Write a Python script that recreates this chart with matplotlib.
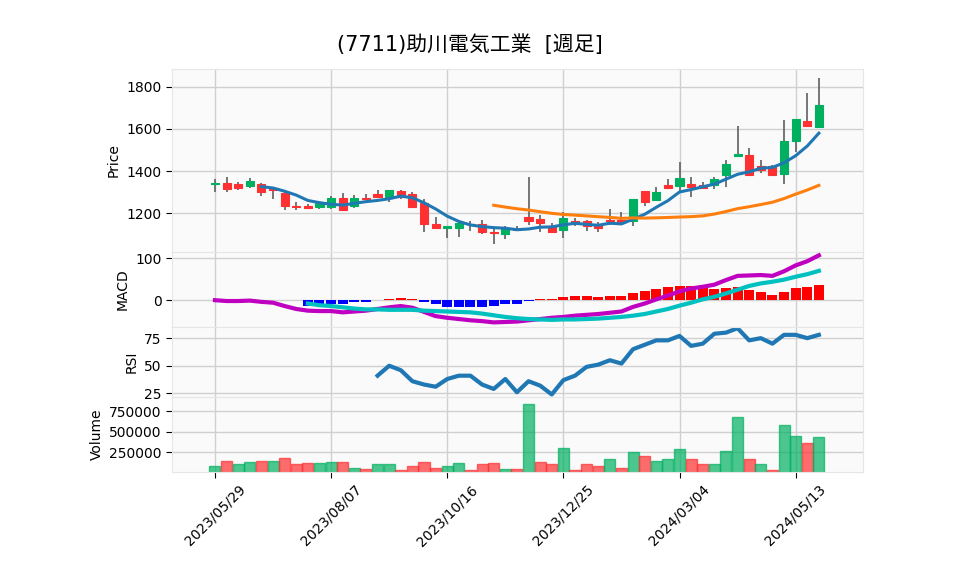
import numpy as np
import pandas as pd
import matplotlib
matplotlib.use("Agg")
import matplotlib.pyplot as plt

plt.rcParams['font.family'] = ['DejaVu Sans', 'Noto Sans CJK JP']

# weekly bars
dates = pd.date_range("2023-05-29", periods=53, freq="7D")
opens = [1337, 1342, 1339, 1331, 1339, 1315, 1298, 1236, 1236, 1228,
         1231, 1271, 1236, 1271, 1291, 1279, 1305, 1291, 1250, 1148,
         1128, 1129, 1150, 1148, 1113, 1102, 1124, 1181, 1172, 1137,
         1118, 1162, 1161, 1145, 1168, 1168, 1162, 1305, 1263, 1334,
         1331, 1339, 1333, 1334, 1382, 1473, 1476, 1422, 1425, 1387,
         1541, 1636, 1608]
highs = [1361, 1370, 1348, 1365, 1345, 1320, 1302, 1255, 1246, 1260,
         1282, 1294, 1287, 1290, 1310, 1311, 1310, 1302, 1266, 1181,
         1140, 1168, 1161, 1168, 1129, 1137, 1140, 1373, 1192, 1153,
         1208, 1176, 1168, 1156, 1219, 1208, 1266, 1305, 1323, 1361,
         1444, 1374, 1346, 1374, 1454, 1616, 1508, 1452, 1427, 1642,
         1649, 1771, 1840]
lows = [1302, 1299, 1309, 1318, 1282, 1268, 1216, 1214, 1219, 1220,
        1222, 1214, 1224, 1266, 1276, 1255, 1266, 1224, 1110, 1132,
        1082, 1087, 1117, 1102, 1055, 1077, 1118, 1142, 1113, 1113,
        1082, 1141, 1117, 1110, 1145, 1145, 1140, 1235, 1263, 1318,
        1307, 1279, 1318, 1314, 1324, 1466, 1378, 1393, 1380, 1339,
        1490, 1607, 1608]
closes = [1342, 1313, 1321, 1353, 1302, 1309, 1236, 1229, 1226, 1250,
          1271, 1216, 1271, 1266, 1279, 1311, 1279, 1231, 1148, 1132,
          1140, 1153, 1148, 1110, 1107, 1126, 1118, 1165, 1153, 1113,
          1176, 1153, 1140, 1132, 1162, 1159, 1266, 1255, 1299, 1318,
          1365, 1324, 1320, 1363, 1435, 1481, 1382, 1406, 1382, 1544,
          1649, 1612, 1711]
volumes = [79000, 141000, 104000, 129000, 141000, 141000, 179000, 104000, 116000, 116000,
           129000, 129000, 66000, 54000, 104000, 104000, 41000, 79000, 129000, 66000,
           79000, 116000, 41000, 104000, 116000, 54000, 54000, 841000, 137000, 104000,
           304000, 41000, 104000, 79000, 166000, 66000, 254000, 204000, 141000, 166000,
           291000, 166000, 104000, 104000, 266000, 679000, 166000, 104000, 41000, 579000,
           454000, 366000, 441000]

# indicator panels (None = not drawn yet)
macd = [0, -2, -2, -1, -4, -6, -14, -21, -25, -26,
        -26, -29, -27, -25, -21, -17, -14, -18, -28, -38,
        -42, -45, -48, -50, -53, -52, -51, -48, -45, -42,
        -40, -37, -35, -33, -30, -27, -16, -8, 2, 11,
        21, 28, 32, 37, 48, 58, 59, 60, 58, 69,
        83, 93, 107]
signal = [None] * 8 + [
        -8, -12, -14, -17, -20, -22, -22, -23, -23, -23,
        -25, -26, -27, -28, -29, -32, -36, -40, -43, -45,
        -46, -47, -46, -46, -45, -44, -42, -40, -37, -33,
        -27, -21, -13, -6, 2, 8, 16, 25, 34, 40,
        44, 49, 56, 62, 70]
hist = [None] * 8 + [
        -14, -10, -10, -10, -5, -4, 1, 4, 6, 4,
        -4, -10, -16, -16, -16, -16, -14, -10, -8, -2,
        2, 2, 7, 10, 10, 7, 10, 10, 17, 21,
        26, 31, 33, 33, 31, 26, 29, 31, 24, 19,
        12, 19, 29, 31, 36]
rsi = [None] * 14 + [
       41, 50, 46, 36, 33, 31, 38, 41, 41, 33,
       29, 38, 26, 36, 32, 24, 37, 41, 49, 51,
       55, 52, 65, 69, 73, 73, 77, 68, 70, 79,
       80, 84, 73, 75, 70, 78, 78, 75, 78]

up_c = '#00b060'
dn_c = '#fe3032'
wick_c = '#606060'
bg = '#fafafa'
grid_c = '#d0d0d0'

x = np.arange(len(closes))
o = np.array(opens, float)
h = np.array(highs, float)
l = np.array(lows, float)
c = np.array(closes, float)
ma5 = pd.Series(c).rolling(5).mean()
ma25 = pd.Series(c).rolling(25).mean()

W, H = 958, 575
fig = plt.figure(figsize=(W / 100, H / 100), dpi=100)

def panel(top, bottom):
    left, right = 172, 863
    return fig.add_axes([left / W, 1 - bottom / H, (right - left) / W, (bottom - top) / H])

ax1 = panel(69, 252)
ax2 = panel(252, 327)
ax3 = panel(327, 397)
ax4 = panel(397, 472)
axes = [ax1, ax2, ax3, ax4]

for ax in axes:
    ax.set_facecolor(bg)
    ax.grid(True, color=grid_c, linewidth=1)
    ax.set_axisbelow(True)
    for s in ax.spines.values():
        s.set_color('#e6e6e6')
    ax.set_xlim(-3.7, 55.8)
    ax.set_xticks(x[::10])
    ax.tick_params(axis='y', labelsize=10, length=4)
    if ax is not ax4:
        ax.tick_params(axis='x', length=0, labelbottom=False)

# candles
cols = [up_c if c[i] >= o[i] else dn_c for i in x]
ax1.vlines(x, l, h, color=wick_c, linewidth=1.2, zorder=2)
body_lo = np.minimum(o, c)
body_h = np.maximum(np.abs(c - o), 1.5)
ax1.bar(x, body_h, bottom=body_lo, width=0.7, color=cols, edgecolor=cols, linewidth=0.8, zorder=3)
ax1.plot(x, ma5, color='#1f77b4', linewidth=2.2, zorder=4)
ax1.plot(x, ma25, color='#ff7f0e', linewidth=2.2, zorder=4)
ax1.set_ylim(1016, 1884)
ax1.set_yticks([1200, 1400, 1600, 1800])
ax1.set_ylabel('Price', fontsize=10)

# MACD
hv = np.array([np.nan if v is None else v for v in hist], float)
hcols = ['red' if v >= 0 else 'blue' for v in np.nan_to_num(hv)]
ax2.bar(x, hv, width=0.86, color=hcols, zorder=2)
ax2.plot(x, macd, color='#c000c0', linewidth=3, zorder=3)
sv = np.array([np.nan if v is None else v for v in signal], float)
ax2.plot(x, sv, color='#00c0c0', linewidth=3, zorder=3)
ax2.set_ylim(-64, 115)
ax2.set_yticks([0, 100])
ax2.set_ylabel('MACD', fontsize=10)

# RSI
rv = np.array([np.nan if v is None else v for v in rsi], float)
ax3.plot(x, rv, color='#1f77b4', linewidth=3)
ax3.set_ylim(21.7, 85.1)
ax3.set_yticks([25, 50, 75])
ax3.set_ylabel('RSI', fontsize=10)

# volume, coloured by close vs previous close
vcols = [up_c] + [up_c if c[i] >= c[i - 1] else dn_c for i in x[1:]]
ax4.bar(x, volumes, width=0.95, color=vcols, edgecolor=vcols, alpha=0.7, linewidth=1)
ax4.set_ylim(12000, 925000)
ax4.set_yticks([250000, 500000, 750000])
ax4.set_yticklabels(['250000', '500000', '750000'])
ax4.set_ylabel('Volume', fontsize=10)
ax4.set_xticklabels([d.strftime('%Y/%m/%d') for d in dates[::10]], rotation=45, fontsize=10)
ax4.tick_params(axis='x', length=4)

fig.text(470 / W, 1 - 45 / H, '(7711)助川電気工業  [週足]', ha='center', va='center', fontsize=15)

fig.savefig('out.png', dpi=100)
